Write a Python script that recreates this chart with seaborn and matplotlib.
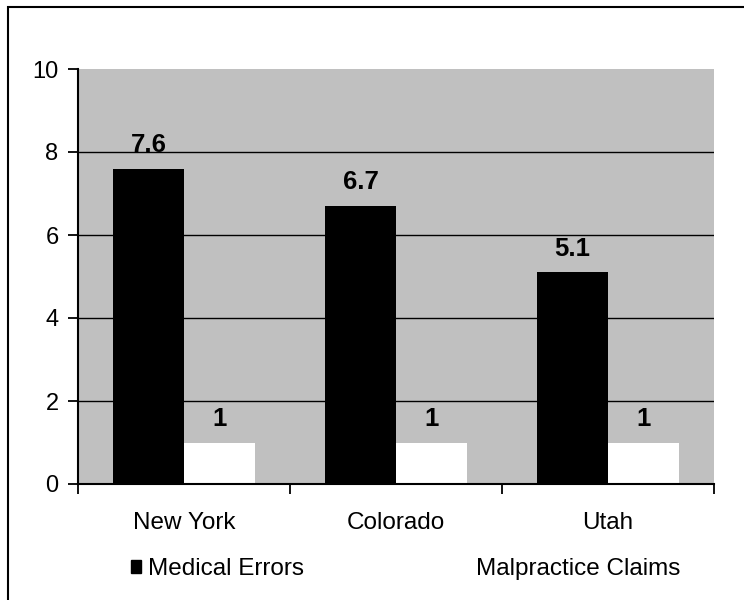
import pandas as pd
import numpy as np
import matplotlib
matplotlib.use("Agg")
import matplotlib.pyplot as plt
from matplotlib.patches import Patch, Rectangle
import seaborn as sns

states = ["New York", "Colorado", "Utah"]
medical_errors = [7.6, 6.7, 5.1]
malpractice_claims = [1, 1, 1]
series_names = ["Medical Errors", "Malpractice Claims"]
y_ticks = [0, 2, 4, 6, 8, 10]

df = pd.DataFrame({
    "state": states * 2,
    "value": medical_errors + malpractice_claims,
    "series": [series_names[0]] * 3 + [series_names[1]] * 3,
})

sns.set_style("white")
plt.rcParams['font.family'] = ['Liberation Sans', 'DejaVu Sans']
plt.rcParams['text.color'] = 'black'
fs = 17.5

fig = plt.figure(figsize=(7.44, 6.0), dpi=100)
ax = fig.add_axes([78 / 744, 1 - 484 / 600, (714 - 78) / 744, (484 - 69) / 600])
ax.set_facecolor("#c0c0c0")

sns.barplot(data=df, x="state", y="value", hue="series", order=states,
            hue_order=series_names, palette=["black", "white"], width=0.67,
            gap=0, linewidth=0, saturation=1, legend=False, ax=ax)

# value labels above the bars
for cont in ax.containers:
    for bar in cont:
        h = bar.get_height()
        ax.annotate(f"{h:g}", (bar.get_x() + bar.get_width() / 2, h),
                    xytext=(0, 12), textcoords="offset points", color="black",
                    ha="center", va="baseline", fontsize=18.5, fontweight="bold")

ax.set_ylim(0, 10)
ax.set_xlim(-0.5, 2.5)
ax.set_yticks(y_ticks)
ax.set_yticklabels([str(t) for t in y_ticks], fontsize=17)
ax.set_xticks(range(len(states)))
ax.set_xticklabels(states, fontsize=17.5)
ax.set_xticks([-0.5, 0.5, 1.5, 2.5], minor=True)
ax.tick_params(axis="x", which="major", length=0, pad=20.5, labelcolor="black")
ax.tick_params(axis="x", which="minor", length=7, width=1.3, color="black", direction="out", bottom=True)
ax.tick_params(axis="y", length=7, width=1.3, color="black", direction="out", left=True, pad=7,
               labelcolor="black")
ax.set_xlabel("")
ax.set_ylabel("")

# black horizontal gridlines, not at the edges
for t in y_ticks[1:-1]:
    ax.axhline(t, color="black", lw=1, zorder=0.5)
ax.set_axisbelow(True)

for s in ["top", "right"]:
    ax.spines[s].set_visible(False)
for s in ["left", "bottom"]:
    ax.spines[s].set_color("black")
    ax.spines[s].set_linewidth(1.5)

handles = [Patch(facecolor="black", edgecolor="black"),
           Patch(facecolor="white", edgecolor="white")]
fig.legend(handles, series_names, loc="center", bbox_to_anchor=(0.545, 0.052),
           ncol=2, frameon=False, fontsize=fs, handlelength=0.45, handleheight=0.45,
           handletextpad=0.25, columnspacing=6.4, labelcolor="black")

# outer border of the chart
fig.patches.append(Rectangle((7.5 / 744, -0.1), 1.2, 1 - 6.5 / 600 + 0.1,
                             transform=fig.transFigure, fill=False,
                             edgecolor="black", lw=1.5))

fig.savefig("out.png", dpi=100)
